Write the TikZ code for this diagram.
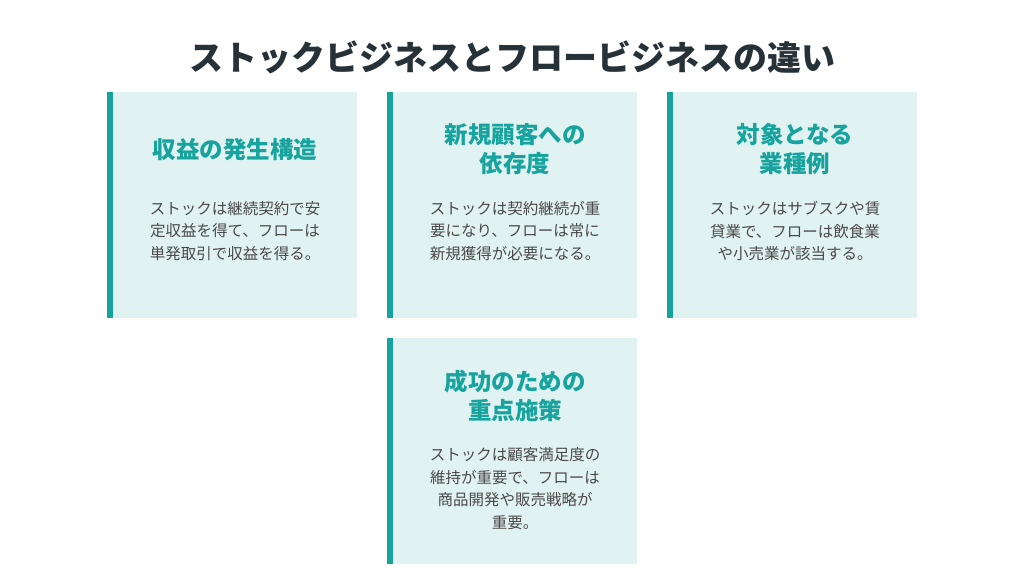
\documentclass[tikz,border=0pt]{standalone}
\usepackage{fontspec}
\setmainfont{Noto Sans CJK JP}
\definecolor{cardbg}{HTML}{E0F2F1}
\definecolor{teal}{HTML}{17A39E}
\definecolor{titlec}{HTML}{263238}
\definecolor{bodyc}{HTML}{4A4A4A}
\begin{document}
\begin{tikzpicture}[x=1pt,y=-1pt,
  card/.style={fill=cardbg,draw=none},
  bar/.style={fill=teal,draw=none},
  head/.style={align=center,text=teal,font=\fontsize{23.5}{28.5}\selectfont\bfseries,inner sep=0pt},
  body/.style={align=center,text=bodyc,font=\fontsize{15.5}{22.5}\selectfont,inner sep=0pt},
  ttl/.style={text=titlec,font=\fontsize{34}{40}\selectfont\bfseries,inner sep=0pt}]
\useasboundingbox (0,0) rectangle (1024,576);
\fill[white] (0,0) rectangle (1024,576);
\node[ttl] (title) at (512,57) {ストックビジネスとフロービジネスの違い};
% card 1
\fill[card] (107,92) rectangle (357,318);
\fill[bar] (107,92) rectangle (113,318);
\node[head] (h1) at (235,150) {収益の発生構造};
\node[body] (b1) at (235,231) {ストックは継続契約で安\\定収益を得て、フローは\\単発取引で収益を得る。};
% card 2
\fill[card] (387,92) rectangle (637,318);
\fill[bar] (387,92) rectangle (393,318);
\node[head] (h2) at (515,149) {新規顧客への\\依存度};
\node[body] (b2) at (515,231) {ストックは契約継続が重\\要になり、フローは常に\\新規獲得が必要になる。};
% card 3
\fill[card] (667,92) rectangle (917,318);
\fill[bar] (667,92) rectangle (673,318);
\node[head] (h3) at (795,149) {対象となる\\業種例};
\node[body] (b3) at (795,231) {ストックはサブスクや賃\\貸業で、フローは飲食業\\や小売業が該当する。};
% card 4
\fill[card] (387,338) rectangle (637,564);
\fill[bar] (387,338) rectangle (393,564);
\node[head] (h4) at (515,396) {成功のための\\重点施策};
\node[body] (b4) at (515,488.5) {ストックは顧客満足度の\\維持が重要で、フローは\\商品開発や販売戦略が\\重要。};
\end{tikzpicture}
\end{document}
